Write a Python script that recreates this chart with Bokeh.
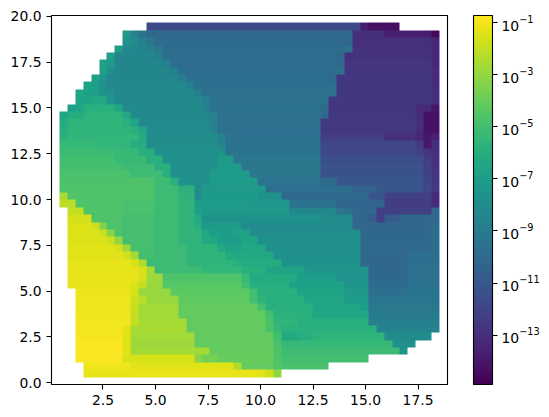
import numpy as np
from bokeh.plotting import figure
from bokeh.models import LogColorMapper, ColorBar, FixedTicker, LogTickFormatter, NumeralTickFormatter, Range1d
from bokeh.palettes import Viridis256
from bokeh.embed import file_html
from bokeh.resources import INLINE

# log10 values: one entry per row from top, (first column, [(last column, exponent), ...])
rows = [
 (12,[(38,-11.7),(39,-13.8),(43,-14.3)]),
 (9,[(9,-7.2),(10,-8.6),(11,-9.4),(37,-10.0),(41,-13.0),(47,-13.7),(48,-14.6)]),
 (9,[(9,-7.6),(10,-8.2),(11,-8.7),(12,-9.3),(36,-9.9),(37,-10.3),(47,-13.0),(48,-13.3)]),
 (8,[(8,-7.0),(10,-8.3),(11,-8.5),(12,-8.8),(13,-9.3),(36,-9.9),(37,-9.6),(47,-12.9),(48,-13.3)]),
 (7,[(7,-6.8),(12,-8.4),(13,-8.8),(35,-9.8),(36,-10.2),(47,-12.8),(48,-13.3)]),
 (6,[(6,-6.8),(7,-7.1),(13,-8.4),(14,-8.8),(35,-9.9),(36,-10.2),(47,-12.7),(48,-13.3)]),
 (6,[(6,-6.9),(7,-7.8),(14,-8.4),(15,-8.8),(35,-9.8),(36,-9.6),(47,-12.7),(48,-13.2)]),
 (5,[(5,-6.8),(6,-7.5),(15,-8.4),(16,-8.9),(34,-9.7),(35,-10.0),(47,-12.6),(48,-13.2)]),
 (4,[(4,-6.7),(5,-6.9),(6,-7.7),(16,-8.3),(17,-8.8),(35,-9.7),(47,-12.6),(48,-13.1)]),
 (3,[(3,-6.5),(5,-6.8),(7,-7.6),(17,-8.3),(18,-8.8),(35,-9.6),(47,-12.6),(48,-13.0)]),
 (3,[(4,-6.6),(6,-6.3),(7,-7.5),(18,-8.2),(19,-8.7),(34,-9.6),(47,-12.6),(48,-13.0)]),
 (2,[(2,-6.8),(3,-6.5),(7,-5.9),(8,-6.5),(18,-8.1),(19,-8.6),(33,-9.5),(34,-10.0),(45,-12.6),(47,-13.2),(48,-14.1)]),
 (1,[(1,-6.6),(3,-6.1),(8,-5.7),(9,-6.4),(19,-8.1),(20,-8.6),(33,-9.6),(34,-10.0),(45,-12.6),(46,-13.1),(48,-14.2)]),
 (1,[(1,-6.2),(8,-5.6),(9,-5.9),(10,-6.5),(19,-8.1),(20,-8.6),(33,-9.6),(45,-12.5),(46,-13.0),(48,-14.2)]),
 (1,[(1,-6.0),(9,-5.6),(10,-5.9),(11,-6.4),(19,-8.0),(20,-8.6),(33,-9.7),(45,-12.6),(46,-13.1),(48,-14.2)]),
 (1,[(1,-5.8),(10,-5.5),(11,-6.2),(20,-7.9),(21,-8.5),(33,-9.6),(41,-12.3),(45,-13.0),(46,-13.4),(47,-14.0),(48,-13.6)]),
 (1,[(5,-5.4),(9,-5.5),(11,-6.1),(20,-7.9),(21,-8.5),(33,-9.5),(45,-11.9),(46,-12.5),(47,-14.0),(48,-13.0)]),
 (1,[(7,-5.2),(10,-5.4),(12,-6.0),(21,-7.8),(33,-9.4),(45,-11.8),(46,-12.2),(47,-12.7),(48,-13.0)]),
 (1,[(7,-5.0),(11,-5.3),(13,-6.0),(20,-7.8),(22,-7.1),(33,-9.3),(46,-11.5),(47,-12.3),(48,-12.9)]),
 (1,[(8,-4.9),(12,-5.2),(14,-6.0),(20,-7.7),(23,-7.1),(33,-9.3),(46,-11.4),(47,-12.2),(48,-12.8)]),
 (1,[(9,-4.8),(13,-5.1),(14,-5.9),(19,-7.8),(24,-7.1),(33,-9.3),(46,-11.3),(47,-12.1),(48,-12.7)]),
 (1,[(12,-4.7),(14,-5.2),(15,-5.9),(19,-7.7),(25,-7.1),(33,-9.5),(35,-10.0),(46,-11.1),(47,-12.0),(48,-12.6)]),
 (1,[(12,-4.6),(15,-5.2),(17,-5.8),(18,-7.9),(26,-7.3),(37,-9.7),(40,-10.4),(46,-11.1),(47,-11.9),(48,-12.5)]),
 (1,[(1,-2.6),(12,-4.6),(15,-5.2),(17,-5.7),(18,-8.0),(25,-7.2),(28,-7.6),(39,-10.0),(41,-11.2),(47,-12.2),(48,-13.2)]),
 (1,[(2,-2.2),(8,-4.6),(12,-4.8),(15,-5.1),(17,-5.6),(18,-7.2),(24,-7.1),(29,-7.4),(35,-9.6),(41,-10.3),(47,-12.3),(48,-13.2)]),
 (2,[(3,-2.0),(8,-4.6),(12,-4.8),(15,-5.2),(17,-5.6),(18,-6.8),(29,-7.2),(35,-8.4),(37,-9.5),(40,-10.2),(47,-12.2),(48,-10.2)]),
 (2,[(4,-1.7),(8,-4.7),(12,-4.9),(15,-5.2),(17,-5.6),(18,-6.2),(33,-7.6),(34,-7.9),(37,-8.1),(39,-10.2),(40,-10.8),(41,-12.3),(43,-10.8),(48,-10.2)]),
 (2,[(4,-1.45),(5,-1.8),(6,-3.4),(8,-4.7),(12,-4.9),(15,-5.2),(17,-5.6),(18,-6.0),(23,-7.1),(37,-8.0),(47,-10.2),(48,-9.9)]),
 (2,[(5,-1.45),(6,-1.8),(7,-3.2),(8,-4.7),(12,-4.9),(15,-5.2),(18,-5.6),(19,-6.3),(22,-7.0),(24,-6.6),(38,-7.9),(47,-10.1),(48,-9.8)]),
 (2,[(6,-1.45),(7,-1.8),(8,-3.0),(12,-4.9),(15,-5.2),(18,-5.6),(20,-6.3),(23,-7.0),(25,-6.6),(38,-7.8),(47,-10.1),(48,-9.8)]),
 (2,[(7,-1.4),(8,-1.7),(9,-2.8),(12,-4.9),(16,-5.2),(20,-5.6),(21,-6.3),(23,-6.8),(26,-6.4),(38,-7.8),(47,-10.0),(48,-9.8)]),
 (2,[(8,-1.35),(9,-1.7),(10,-2.6),(12,-5.0),(16,-5.2),(21,-5.6),(23,-6.3),(27,-6.3),(38,-7.7),(44,-10.2),(48,-9.7)]),
 (2,[(9,-1.25),(10,-1.6),(11,-2.4),(16,-5.2),(22,-5.6),(23,-6.0),(28,-6.2),(38,-7.6),(44,-10.2),(48,-9.7)]),
 (2,[(10,-1.25),(11,-1.6),(12,-2.6),(18,-5.2),(23,-5.5),(26,-5.9),(31,-6.6),(39,-7.5),(44,-10.1),(48,-9.6)]),
 (2,[(10,-1.2),(11,-1.6),(13,-2.8),(23,-4.6),(24,-5.3),(30,-6.2),(35,-7.0),(39,-7.7),(44,-10.1),(48,-9.6)]),
 (2,[(9,-1.2),(10,-1.5),(11,-2.0),(13,-2.9),(23,-4.4),(24,-5.0),(29,-6.0),(36,-6.8),(39,-7.4),(44,-9.9),(48,-9.5)]),
 (3,[(9,-1.1),(10,-1.6),(14,-2.9),(24,-4.3),(25,-5.0),(30,-5.9),(36,-6.6),(39,-7.3),(44,-9.7),(48,-9.4)]),
 (3,[(9,-1.1),(10,-1.8),(11,-2.2),(15,-2.9),(24,-4.2),(25,-5.0),(26,-5.6),(31,-6.0),(36,-6.6),(39,-7.2),(48,-9.4)]),
 (3,[(9,-1.1),(10,-1.9),(15,-2.7),(25,-4.1),(26,-4.9),(32,-5.9),(38,-6.5),(39,-7.1),(48,-9.2)]),
 (3,[(9,-1.05),(10,-2.0),(15,-2.7),(26,-4.1),(27,-5.0),(32,-5.8),(39,-6.4),(48,-9.0)]),
 (3,[(9,-0.95),(10,-2.0),(16,-2.6),(26,-4.1),(27,-4.7),(30,-5.6),(39,-6.0),(48,-8.8)]),
 (3,[(8,-0.95),(9,-1.4),(16,-2.6),(26,-4.1),(27,-4.8),(28,-5.4),(40,-5.9),(48,-8.5)]),
 (3,[(8,-0.9),(9,-1.4),(17,-2.7),(27,-4.1),(28,-5.0),(30,-6.3),(32,-6.0),(41,-5.7),(47,-8.0)]),
 (3,[(8,-0.8),(9,-1.4),(17,-2.8),(27,-4.1),(28,-4.8),(42,-5.4),(45,-7.8)]),
 (3,[(8,-0.78),(9,-1.3),(19,-2.7),(27,-4.1),(28,-4.6),(43,-5.2),(44,-7.6)]),
 (3,[(8,-0.78),(17,-1.6),(18,-3.2),(20,-3.7),(27,-4.0),(28,-4.6),(39,-5.0)]),
 (4,[(9,-1.0),(22,-1.4),(23,-2.4),(27,-4.1),(28,-4.5),(34,-4.8)]),
 (4,[(25,-1.2),(26,-1.4),(27,-1.8),(28,-3.1)]),
]
color_low = -14.9
color_high = -0.72
bar_ticks = [1e-13, 1e-11, 1e-9, 1e-7, 1e-5, 1e-3, 1e-1]
x_span = [0.05, 18.9]
y_span = [-0.1, 20.05]
x_ticks = [2.5, 5, 7.5, 10, 12.5, 15, 17.5]
y_ticks = [0, 2.5, 5, 7.5, 10, 12.5, 15, 17.5, 20]

Z = np.full((50, 50), np.nan)
for r, (first, runs) in enumerate(rows, start=1):
    c = first
    for last, e in runs:
        Z[49 - r, c:last + 1] = 10.0 ** e
        c = last + 1

mapper = LogColorMapper(palette=Viridis256, low=10 ** color_low, high=10 ** color_high,
                        nan_color=(0, 0, 0, 0))
p = figure(width=533, height=393, output_backend="svg", toolbar_location=None,
           x_range=Range1d(*x_span), y_range=Range1d(*y_span),
           min_border_left=51, min_border_top=15, min_border_bottom=9, min_border_right=0)
p.frame_width = 396
p.frame_height = 369
p.image(image=[Z], x=x_span[0], y=y_span[0], dw=x_span[1] - x_span[0], dh=y_span[1] - y_span[0],
        color_mapper=mapper)
p.grid.visible = False
p.outline_line_color = "black"
p.outline_line_width = 1.1
p.outline_line_alpha = 1
for ax, t in ((p.xaxis[0], x_ticks), (p.yaxis[0], y_ticks)):
    ax.ticker = FixedTicker(ticks=t)
    ax.formatter = NumeralTickFormatter(format="0.0")
    ax.axis_line_color = None
    ax.major_tick_line_color = "black"
    ax.major_tick_line_width = 1.1
    ax.major_tick_in = 0
    ax.major_tick_out = 5
    ax.minor_tick_line_color = None
    ax.major_label_text_font = "DejaVu Sans"
    ax.major_label_text_font_size = "13.9px"
    ax.major_label_text_color = "black"
    ax.major_label_standoff = 5
p.yaxis[0].major_label_orientation = "horizontal"

cb = ColorBar(color_mapper=mapper, ticker=FixedTicker(ticks=bar_ticks),
              formatter=LogTickFormatter(), width=19, height=369, margin=0, padding=0,
              location=(26, 0),
              bar_line_color="black", bar_line_width=1.1,
              major_tick_line_color="black", major_tick_line_width=1.1,
              major_tick_in=0, major_tick_out=5, minor_tick_line_color=None,
              major_label_text_font="DejaVu Sans", major_label_text_font_size="13.9px",
              major_label_text_color="black", label_standoff=4)
p.add_layout(cb, "right")

open("out.html", "w").write(file_html(p, INLINE))
